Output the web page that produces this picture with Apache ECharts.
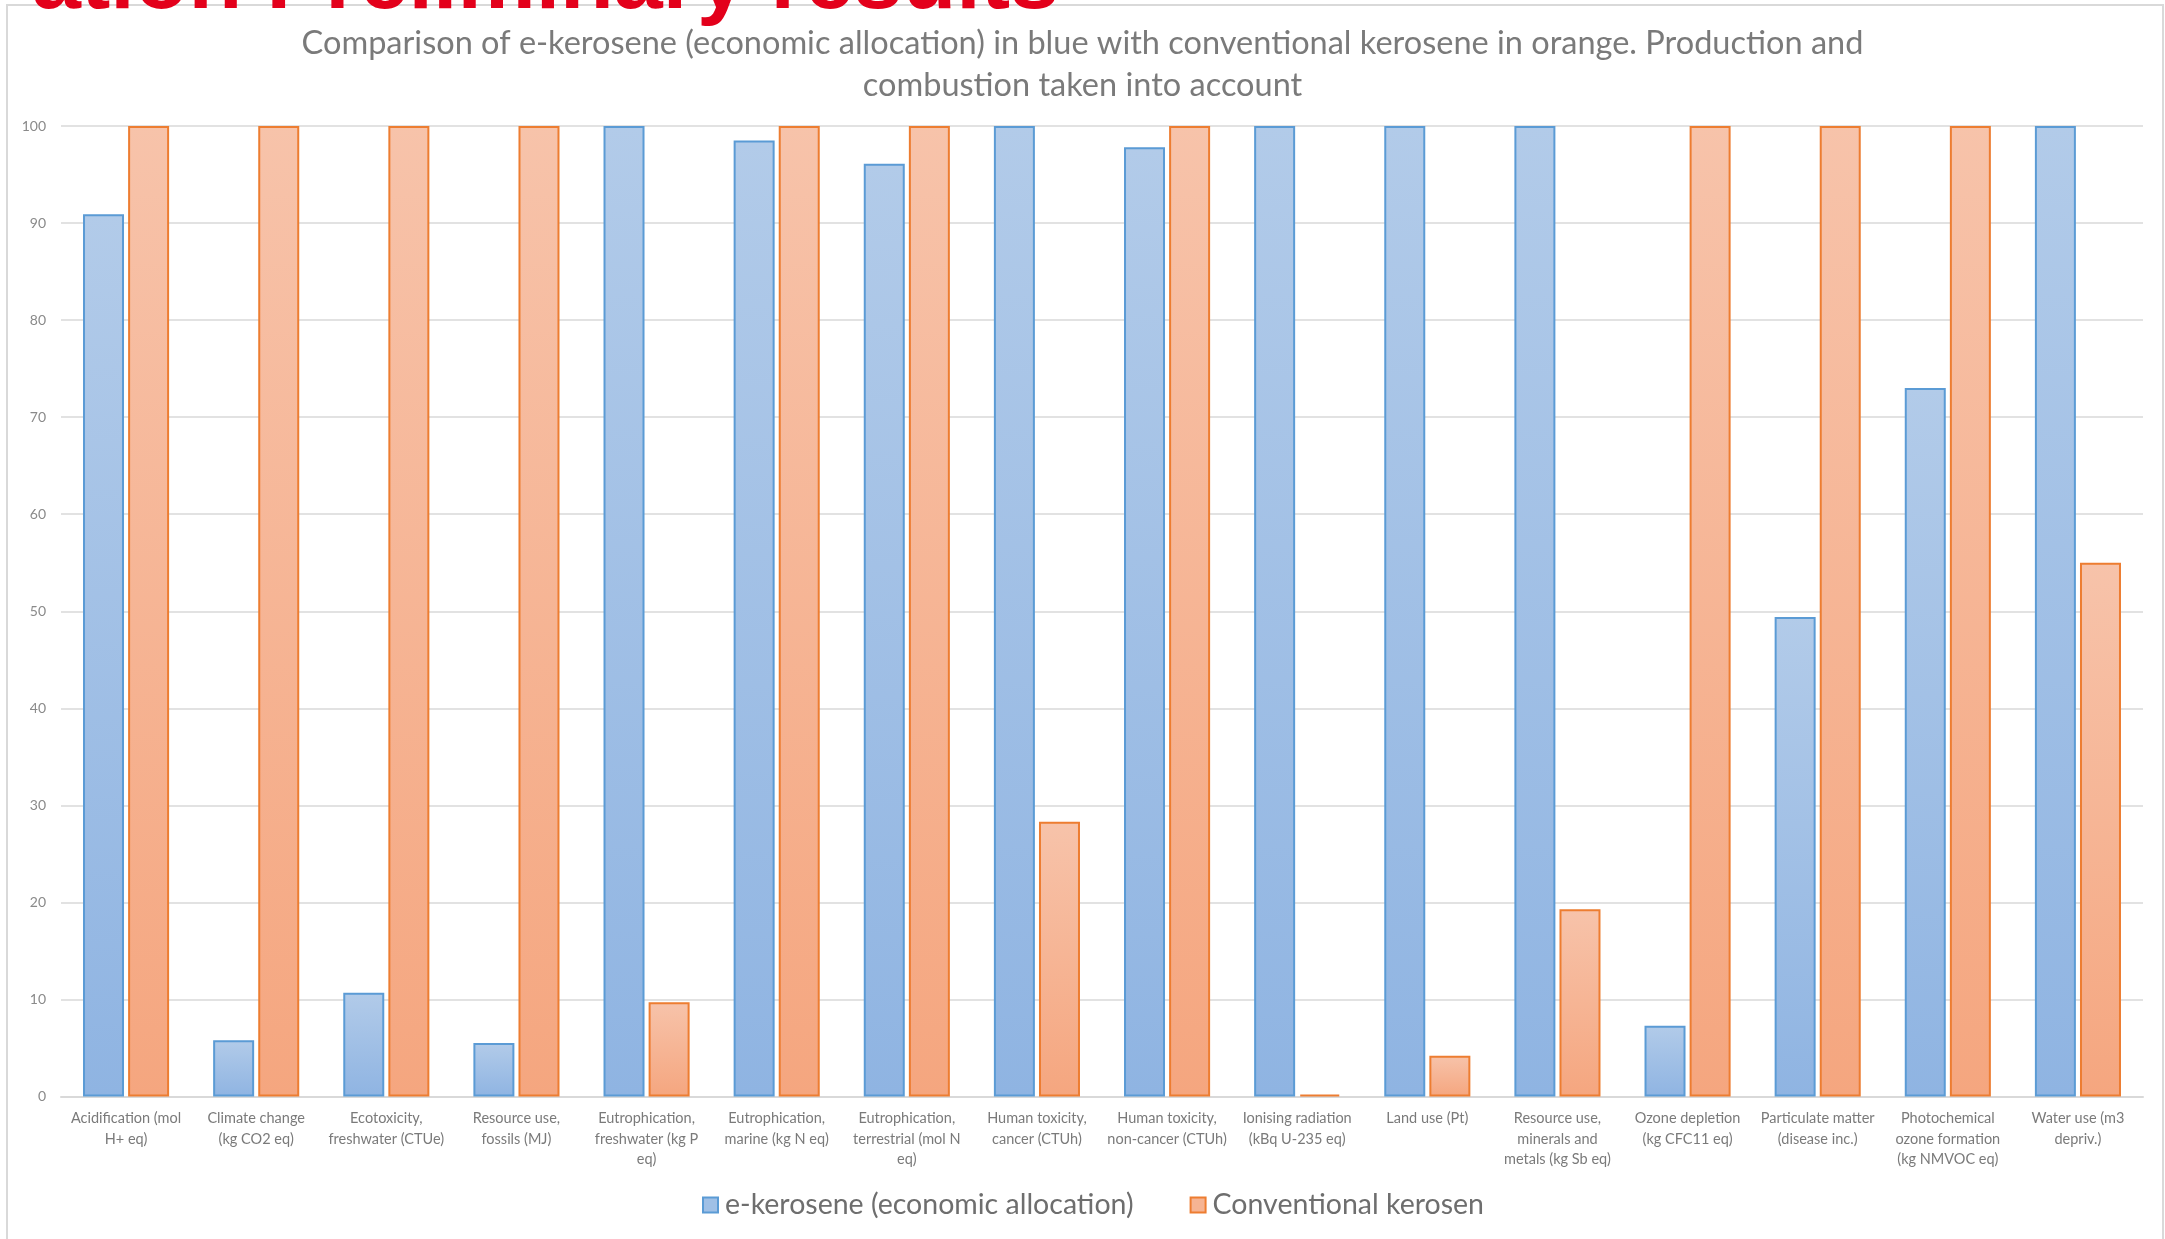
<!DOCTYPE html>
<html>
<head>
<meta charset="utf-8">
<script src="https://cdn.jsdelivr.net/npm/echarts@6/dist/echarts.min.js"></script>
<style>
html,body{margin:0;padding:0;background:#fff;}
#chart{width:2165px;height:1239px;}
</style>
</head>
<body>
<div id="chart"></div>
<script>
const categories = [
  "Acidification (mol\nH+ eq)",
  "Climate change\n(kg CO2 eq)",
  "Ecotoxicity,\nfreshwater (CTUe)",
  "Resource use,\nfossils (MJ)",
  "Eutrophication,\nfreshwater (kg P\neq)",
  "Eutrophication,\nmarine (kg N eq)",
  "Eutrophication,\nterrestrial (mol N\neq)",
  "Human toxicity,\ncancer (CTUh)",
  "Human toxicity,\nnon-cancer (CTUh)",
  "Ionising radiation\n(kBq U-235 eq)",
  "Land use (Pt)",
  "Resource use,\nminerals and\nmetals (kg Sb eq)",
  "Ozone depletion\n(kg CFC11 eq)",
  "Particulate matter\n(disease inc.)",
  "Photochemical\nozone formation\n(kg NMVOC eq)",
  "Water use (m3\ndepriv.)"
];
const eKerosene = [90.9, 5.8, 10.7, 5.5, 100, 98.5, 96.1, 100, 97.8, 100, 100, 100, 7.3, 49.4, 73.0, 100];
const conventional = [100, 100, 100, 100, 9.7, 100, 100, 28.3, 100, 0.2, 4.2, 19.3, 100, 100, 100, 55.0];
const seriesNames = ["e-kerosene (economic allocation)", "Conventional kerosen"];
const chartTitle = "Comparison of e-kerosene (economic allocation) in blue with conventional kerosene in orange. Production and\ncombustion taken into account";
const slideTitle = "ation Preliminary results";

const font = "Lato, 'Open Sans', sans-serif";
const chart = echarts.init(document.getElementById('chart'));

const blueFill = new echarts.graphic.LinearGradient(0, 0, 0, 1, [
  {offset: 0, color: '#b2cbe9'}, {offset: 1, color: '#8fb4e2'}]);
const orangeFill = new echarts.graphic.LinearGradient(0, 0, 0, 1, [
  {offset: 0, color: '#f7c3aa'}, {offset: 1, color: '#f5a67f'}]);

chart.setOption({
  backgroundColor: '#ffffff',
  animation: false,
  title: {
    text: chartTitle,
    left: 'center',
    top: 18,
    textStyle: {fontFamily: font, fontWeight: 'normal', fontSize: 32.5, lineHeight: 42, color: '#7a7a7a'}
  },
  graphic: [
    {type: 'rect', shape: {x: 7, y: 5, width: 2156, height: 1300},
     style: {fill: 'none', stroke: '#d9d9d9', lineWidth: 2}, silent: true, z: 0},
    {type: 'text', right: 2165 - 1059, top: -60,
     style: {text: slideTitle, fill: '#e3001b', font: "bold 88px 'Liberation Sans', Arial, sans-serif"}, z: 10}
  ],
  legend: {
    data: [
      {name: seriesNames[0], itemStyle: {color: '#a0c0e6', borderColor: '#5b9bd5', borderWidth: 2}},
      {name: seriesNames[1], itemStyle: {color: '#f6b493', borderColor: '#ed7d31', borderWidth: 2}}
    ],
    left: 697,
    top: 1185,
    icon: 'rect',
    itemWidth: 15,
    itemHeight: 15,
    itemGap: 56,
    textStyle: {fontFamily: font, fontSize: 28.5, color: '#6e6e6e', lineHeight: 30, padding: [0, 0, 0, 2]}
  },
  grid: {left: 61, right: 22, top: 126, bottom: 142.5, containLabel: false},
  xAxis: {
    type: 'category',
    data: categories,
    axisLine: {lineStyle: {color: '#d9d9d9', width: 2}},
    axisTick: {show: false},
    axisLabel: {interval: 0, fontFamily: font, fontSize: 14.5, lineHeight: 20.5, color: '#7a7a7a', margin: 12}
  },
  yAxis: {
    type: 'value',
    min: 0, max: 100, interval: 10,
    axisLine: {show: false},
    axisTick: {show: false},
    splitLine: {lineStyle: {color: '#d9d9d9', width: 1.5}},
    axisLabel: {fontFamily: font, fontSize: 14, color: '#8a8a8a', margin: 15}
  },
  series: [
    {name: seriesNames[0], type: 'bar', data: eKerosene, barWidth: 41, barGap: '10%',
     itemStyle: {color: blueFill, borderColor: '#5b9bd5', borderWidth: 2}},
    {name: seriesNames[1], type: 'bar', data: conventional, barWidth: 41,
     itemStyle: {color: orangeFill, borderColor: '#ed7d31', borderWidth: 2}}
  ]
});
</script>
</body>
</html>
